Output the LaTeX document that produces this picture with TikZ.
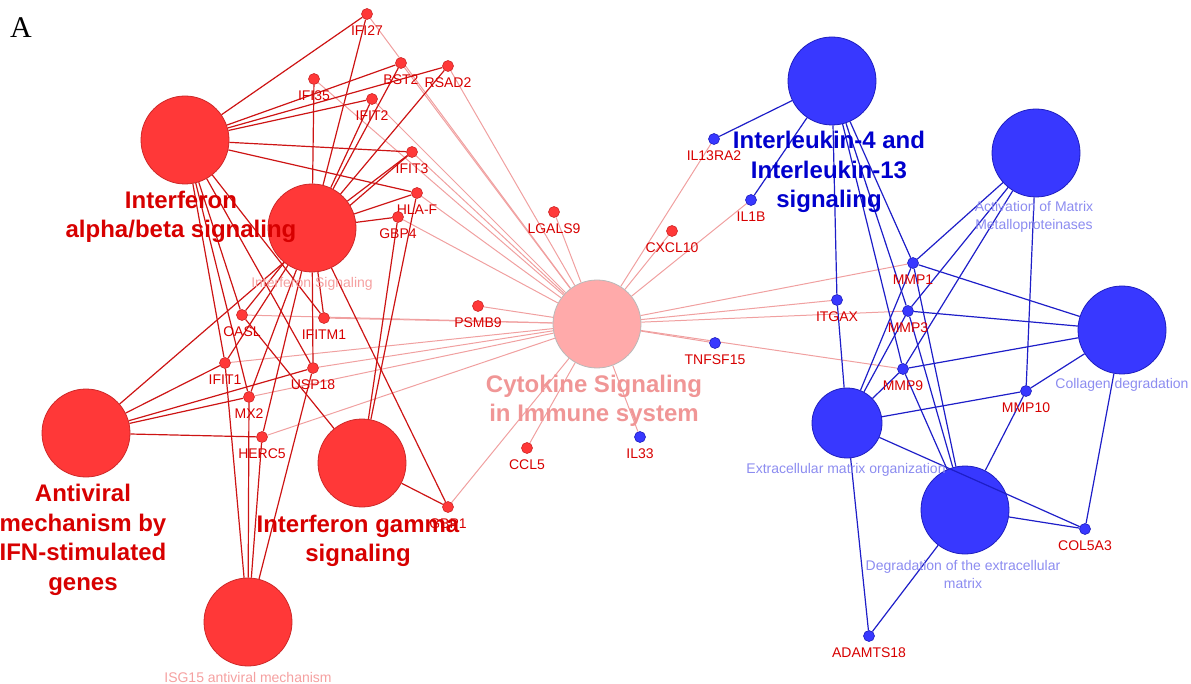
\documentclass[tikz,border=0pt]{standalone}
\usepackage{fontspec}
\setmainfont{Liberation Sans}
\newfontfamily\panelfont{Liberation Serif}
\usetikzlibrary{backgrounds}

\definecolor{redfill}{RGB}{255,56,56}
\definecolor{redline}{RGB}{205,40,40}
\definecolor{bluefill}{RGB}{56,56,255}
\definecolor{blueline}{RGB}{30,30,190}
\definecolor{pinkfill}{RGB}{255,170,170}
\definecolor{pinkline}{RGB}{185,185,185}
\definecolor{rededgecol}{RGB}{205,20,20}
\definecolor{pinkedgecol}{RGB}{240,160,160}
\definecolor{blueedgecol}{RGB}{30,30,200}
\definecolor{genetext}{RGB}{215,0,0}
\definecolor{bigbluetext}{RGB}{0,0,205}
\definecolor{bigpinktext}{RGB}{240,150,150}
\definecolor{softpink}{RGB}{245,160,160}
\definecolor{softblue}{RGB}{140,140,240}

\begin{document}
\begin{tikzpicture}[
    x=1pt, y=-1pt,
    redterm/.style={circle, draw=redline, fill=redfill, line width=0.8pt, minimum size=88pt, inner sep=0pt},
    blueterm/.style={circle, draw=blueline, fill=bluefill, line width=0.8pt, minimum size=88pt, inner sep=0pt},
    pinkterm/.style={circle, draw=pinkline, fill=pinkfill, line width=0.8pt, minimum size=88pt, inner sep=0pt},
    genelabel/.style={text=genetext, font=\fontsize{14}{16}\selectfont, inner sep=0pt, label distance=5.5pt},
    redgene/.style={circle, draw=redline, fill=redfill, line width=0.6pt, minimum size=11pt, inner sep=0pt, label={[genelabel]below:#1}},
    bluegene/.style={circle, draw=blueline, fill=bluefill, line width=0.6pt, minimum size=11pt, inner sep=0pt, label={[genelabel]below:#1}},
    rededge/.style={draw=rededgecol, line width=1.2pt},
    pinkedge/.style={draw=pinkedgecol, line width=1pt},
    blueedge/.style={draw=blueedgecol, line width=1.2pt},
    bigtext/.style={font=\bfseries\fontsize{24}{29.5}\selectfont, align=center, inner sep=0pt},
    softtext/.style={font=\fontsize{14}{18}\selectfont, align=center, inner sep=0pt}
]
    \useasboundingbox (0,0) rectangle (1191,684);

    % Panel tag
    \node[font=\panelfont\fontsize{30}{30}\selectfont, inner sep=0pt] (paneltag) at (21,28) {A};

    % Red terms
    \node[redterm] (ifnab) at (185,140) {};
    \node[redterm] (ifnsig) at (312,228) {};
    \node[redterm] (antiviral) at (86,433) {};
    \node[redterm] (ifng) at (362,463) {};
    \node[redterm] (isg) at (248,622) {};

    % Cytokine term
    \node[pinkterm] (cyto) at (597,324) {};

    % Blue terms
    \node[blueterm] (il4) at (832,81) {};
    \node[blueterm] (actmmp) at (1036,153) {};
    \node[blueterm] (collagen) at (1122,330) {};
    \node[blueterm, minimum size=70pt] (ecm) at (847,423) {};
    \node[blueterm] (degr) at (965,510) {};

    % Interferon genes
    \node[redgene=IFI27] (ifi27) at (367,14) {};
    \node[redgene=BST2] (bst2) at (401,63) {};
    \node[redgene=RSAD2] (rsad2) at (448,66) {};
    \node[redgene=IFI35] (ifi35) at (314,79) {};
    \node[redgene=IFIT2] (ifit2) at (372,99) {};
    \node[redgene=IFIT3] (ifit3) at (412,152) {};
    \node[redgene=HLA-F] (hlaf) at (417,193) {};
    \node[redgene=GBP4] (gbp4) at (398,217) {};
    \node[redgene=OASL] (oasl) at (242,315) {};
    \node[redgene=IFITM1] (ifitm1) at (324,318) {};
    \node[redgene=PSMB9] (psmb9) at (478,306) {};
    \node[redgene=IFIT1] (ifit1) at (225,363) {};
    \node[redgene=USP18] (usp18) at (313,368) {};
    \node[redgene=MX2] (mx2) at (249,397) {};
    \node[redgene=HERC5] (herc5) at (262,437) {};
    \node[redgene=GBP1] (gbp1) at (448,507) {};
    \node[redgene=LGALS9] (lgals9) at (554,212) {};
    \node[redgene=CXCL10] (cxcl10) at (672,231) {};
    \node[redgene=CCL5] (ccl5) at (527,448) {};

    % Matrix and interleukin genes
    \node[bluegene=IL13RA2] (il13ra2) at (714,139) {};
    \node[bluegene=IL1B] (il1b) at (751,200) {};
    \node[bluegene=TNFSF15] (tnfsf15) at (715,343) {};
    \node[bluegene=IL33] (il33) at (640,437) {};
    \node[bluegene=ITGAX] (itgax) at (837,300) {};
    \node[bluegene=MMP1] (mmp1) at (913,263) {};
    \node[bluegene=MMP3] (mmp3) at (908,311) {};
    \node[bluegene=MMP9] (mmp9) at (903,369) {};
    \node[bluegene=MMP10] (mmp10) at (1026,391) {};
    \node[bluegene=COL5A3] (col5a3) at (1085,529) {};
    \node[bluegene=ADAMTS18] (adamts18) at (869,636) {};

    % Edges behind the nodes
    \begin{scope}[on background layer]
        \foreach \g in {ifi27,ifi35,bst2,rsad2,ifit2,ifit3,hlaf,gbp4,lgals9,psmb9,oasl,ifitm1,ifit1,usp18,mx2,herc5,gbp1,ccl5,il33,tnfsf15,cxcl10,il1b,il13ra2,mmp1,itgax,mmp3,mmp9}
            \draw[pinkedge] (cyto) -- (\g);
        \foreach \g in {ifi27,bst2,rsad2,ifit2,ifit3,hlaf,oasl,ifit1,mx2,usp18,ifitm1}
            \draw[rededge] (ifnab) -- (\g);
        \foreach \g in {ifi27,ifi35,bst2,rsad2,ifit2,ifit3,hlaf,gbp4,oasl,ifit1,mx2,herc5,ifitm1,usp18,gbp1}
            \draw[rededge] (ifnsig) -- (\g);
        \foreach \g in {ifit3,ifit1,usp18,mx2,herc5}
            \draw[rededge] (antiviral) -- (\g);
        \foreach \g in {gbp4,hlaf,oasl,gbp1}
            \draw[rededge] (ifng) -- (\g);
        \foreach \g in {ifit1,mx2,herc5,usp18}
            \draw[rededge] (isg) -- (\g);
        \foreach \g in {il13ra2,il1b,itgax,mmp1,mmp3,mmp9}
            \draw[blueedge] (il4) -- (\g);
        \foreach \g in {mmp1,mmp3,mmp9,mmp10}
            \draw[blueedge] (actmmp) -- (\g);
        \foreach \g in {mmp1,mmp3,mmp9,mmp10,col5a3}
            \draw[blueedge] (collagen) -- (\g);
        \foreach \g in {itgax,mmp1,mmp3,mmp9,mmp10,adamts18}
            \draw[blueedge] (ecm) -- (\g);
        \foreach \g in {mmp1,mmp3,mmp9,mmp10,col5a3,adamts18}
            \draw[blueedge] (degr) -- (\g);
    \end{scope}
    \draw[blueedge] (ecm) -- (col5a3);

    % Term labels
    \node[bigtext, text=genetext] (ifnabtxt) at (181,217) {Interferon\\alpha/beta signaling};
    \node[bigtext, text=genetext] (antiviraltxt) at (83,540) {Antiviral\\mechanism by\\IFN-stimulated\\genes};
    \node[bigtext, text=genetext] (ifngtxt) at (358,541) {Interferon gamma\\signaling};
    \node[bigtext, text=bigpinktext] (cytotxt) at (594,401) {Cytokine Signaling\\in Immune system};
    \node[bigtext, text=bigbluetext] (il4txt) at (829,172) {Interleukin-4 and\\Interleukin-13\\signaling};
    \node[softtext, text=softpink] (ifnsigtxt) at (312,284) {Interferon Signaling};
    \node[softtext, text=softpink] (isgtxt) at (248,677) {ISG15 antiviral mechanism};
    \node[softtext, text=softblue] (actmmptxt) at (1034,217) {Activation of Matrix\\Metalloproteinases};
    \node[softtext, text=softblue] (collagentxt) at (1122,385) {Collagen degradation};
    \node[softtext, text=softblue] (ecmtxt) at (846,470) {Extracellular matrix organization};
    \node[softtext, text=softblue] (degrtxt) at (963,574) {Degradation of the extracellular\\matrix};
\end{tikzpicture}
\end{document}
